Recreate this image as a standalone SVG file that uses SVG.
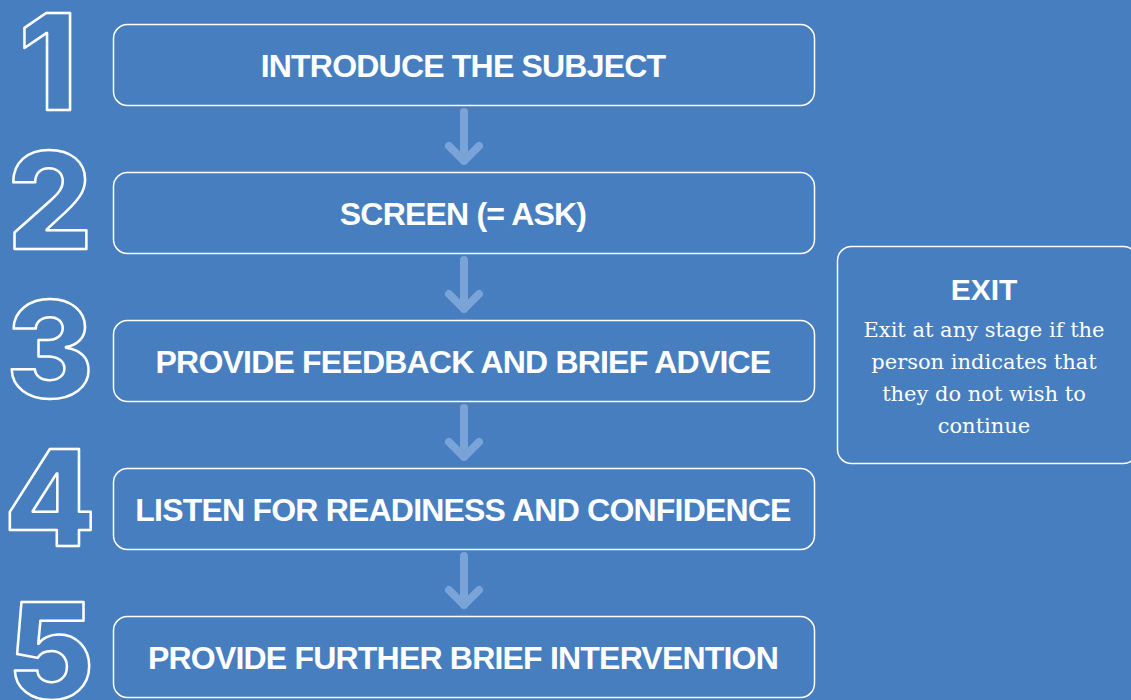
<svg xmlns="http://www.w3.org/2000/svg" width="1131" height="700" viewBox="0 0 1131 700">
<style>
.bg{fill:#467ebf}
.box{fill:none;stroke:#ffffff;stroke-width:1.5}
.lbl{font-family:"Liberation Sans",Arial,sans-serif;font-weight:bold;font-size:32px;fill:#ffffff;text-anchor:middle;letter-spacing:-0.8px}
.num{font-family:Inter,"Liberation Sans",sans-serif;font-weight:800;font-size:134px;fill:none;stroke:#ffffff;stroke-width:2.5;stroke-linejoin:round;text-anchor:middle}
.arr{fill:none;stroke:#7aa4d8;stroke-width:8;stroke-linecap:round;stroke-linejoin:round}
.exitT{font-family:"Liberation Sans",Arial,sans-serif;font-weight:bold;font-size:30px;fill:#ffffff;text-anchor:middle}
.exitB{font-family:"DejaVu Serif",serif;font-size:21px;fill:#ffffff;text-anchor:middle}
</style>
<rect class="bg" x="0" y="0" width="1131" height="700"/>
<g id="step1">
<text class="num" x="48" y="110">1</text>
<rect class="box" x="113.5" y="24.5" width="701" height="81" rx="14"/>
<text class="lbl" x="463" y="77">INTRODUCE THE SUBJECT</text>
</g>
<g id="step2">
<text class="num" x="50" y="249">2</text>
<rect class="box" x="113.5" y="172.5" width="701" height="81" rx="14"/>
<text class="lbl" x="463" y="225">SCREEN (= ASK)</text>
</g>
<g id="step3">
<text class="num" x="50" y="398">3</text>
<rect class="box" x="113.5" y="320.5" width="701" height="81" rx="14"/>
<text class="lbl" x="463" y="373">PROVIDE FEEDBACK AND BRIEF ADVICE</text>
</g>
<g id="step4">
<text class="num" x="50" y="546">4</text>
<rect class="box" x="113.5" y="468.5" width="701" height="81" rx="14"/>
<text class="lbl" x="463" y="521">LISTEN FOR READINESS AND CONFIDENCE</text>
</g>
<g id="step5">
<text class="num" x="51" y="699">5</text>
<rect class="box" x="113.5" y="616.5" width="701" height="81" rx="14"/>
<text class="lbl" x="463" y="669">PROVIDE FURTHER BRIEF INTERVENTION</text>
</g>
<g id="exit">
<rect class="box" x="837.5" y="246.5" width="300" height="217" rx="14"/>
<text class="exitT" x="984" y="300">EXIT</text>
<text class="exitB" x="984" y="337">Exit at any stage if the</text>
<text class="exitB" x="984" y="369">person indicates that</text>
<text class="exitB" x="984" y="401">they do not wish to</text>
<text class="exitB" x="984" y="433">continue</text>
</g>
<g id="connectors">
<path class="arr" d="M464 112V161M449 146L464 161L479 146"/>
<path class="arr" d="M464 260V309M449 294L464 309L479 294"/>
<path class="arr" d="M464 408V457M449 442L464 457L479 442"/>
<path class="arr" d="M464 556V605M449 590L464 605L479 590"/>
</g>
</svg>
